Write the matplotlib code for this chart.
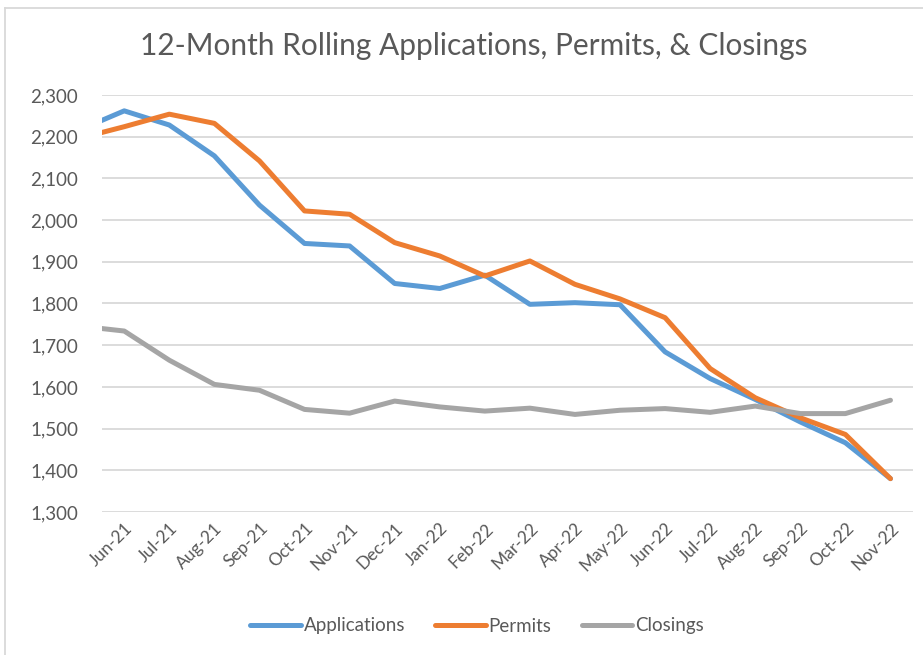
import matplotlib
matplotlib.use("Agg")
import matplotlib.pyplot as plt
from matplotlib.lines import Line2D

months = ["Jun-21", "Jul-21", "Aug-21", "Sep-21", "Oct-21", "Nov-21", "Dec-21",
          "Jan-22", "Feb-22", "Mar-22", "Apr-22", "May-22", "Jun-22", "Jul-22",
          "Aug-22", "Sep-22", "Oct-22", "Nov-22"]
# value of the prior month (May-21), only partly visible at the left edge
prior_applications = 2216
prior_permits = 2196
prior_closings = 1746

applications = [2262, 2228, 2154, 2036, 1944, 1938, 1848, 1836, 1868, 1798, 1802,
                1797, 1684, 1620, 1570, 1516, 1466, 1380]
permits = [2224, 2254, 2232, 2142, 2022, 2014, 1946, 1914, 1866, 1902, 1846,
           1811, 1766, 1644, 1574, 1526, 1486, 1380]
closings = [1734, 1664, 1606, 1592, 1546, 1537, 1566, 1552, 1542, 1549, 1534,
            1544, 1548, 1539, 1554, 1536, 1536, 1568]
yticks = [1300, 1400, 1500, 1600, 1700, 1800, 1900, 2000, 2100, 2200, 2300]

plt.rcParams['font.family'] = ['Lato', 'DejaVu Sans']
W, H = 923, 655
fig = plt.figure(figsize=(W / 100, H / 100), dpi=100)
ax = fig.add_axes([101.7 / W, 1 - 512 / H, (913 - 101.7) / W, (512 - 95) / H])

xs = list(range(-1, len(months)))
series = [
    ("Applications", [prior_applications] + applications, "#5B9BD5"),
    ("Permits", [prior_permits] + permits, "#ED7D31"),
    ("Closings", [prior_closings] + closings, "#A5A5A5"),
]
for name, vals, col in series:
    ax.plot(xs, vals, color=col, lw=3.6, solid_joinstyle='round',
            solid_capstyle='round', label=name, zorder=3)

ax.set_xlim(-0.5, len(months) - 0.5)
ax.set_ylim(1300, 2300)
ax.set_yticks(yticks)
ax.set_yticklabels([f"{v:,}" for v in yticks])
ax.set_xticks(range(len(months)))
ax.set_xticklabels(months, rotation=45, ha='right', rotation_mode='anchor')
ax.grid(axis='y', color='#D9D9D9', lw=1.3)
ax.set_axisbelow(True)
for s in ax.spines.values():
    s.set_visible(False)
ax.tick_params(axis='both', length=0, colors='#595959')
ax.tick_params(axis='y', pad=17, labelsize=13.5)
ax.tick_params(axis='x', pad=6, labelsize=12.5)

fig.text(474 / W, 1 - 46 / H, "12-Month Rolling Applications, Permits, & Closings",
         ha='center', va='center', fontsize=21.5, color='#595959')

handles = [Line2D([0], [0], color=c, lw=3.6, solid_capstyle='round') for _, _, c in series]
fig.legend(handles, [n for n, _, _ in series], loc='center',
           bbox_to_anchor=(477 / W, 1 - 626 / H), ncol=3, frameon=False,
           fontsize=13.5, handlelength=2.7, handletextpad=0.15, columnspacing=1.6,
           labelcolor='#595959')

# chart-area frame (top and left edges visible)
fig.add_artist(Line2D([5 / W, 5 / W], [0, 1 - 8 / H], transform=fig.transFigure,
                      color='#D9D9D9', lw=1.3))
fig.add_artist(Line2D([5 / W, 1], [1 - 8 / H, 1 - 8 / H], transform=fig.transFigure,
                      color='#D9D9D9', lw=1.3))

fig.savefig("out.png", dpi=100)
